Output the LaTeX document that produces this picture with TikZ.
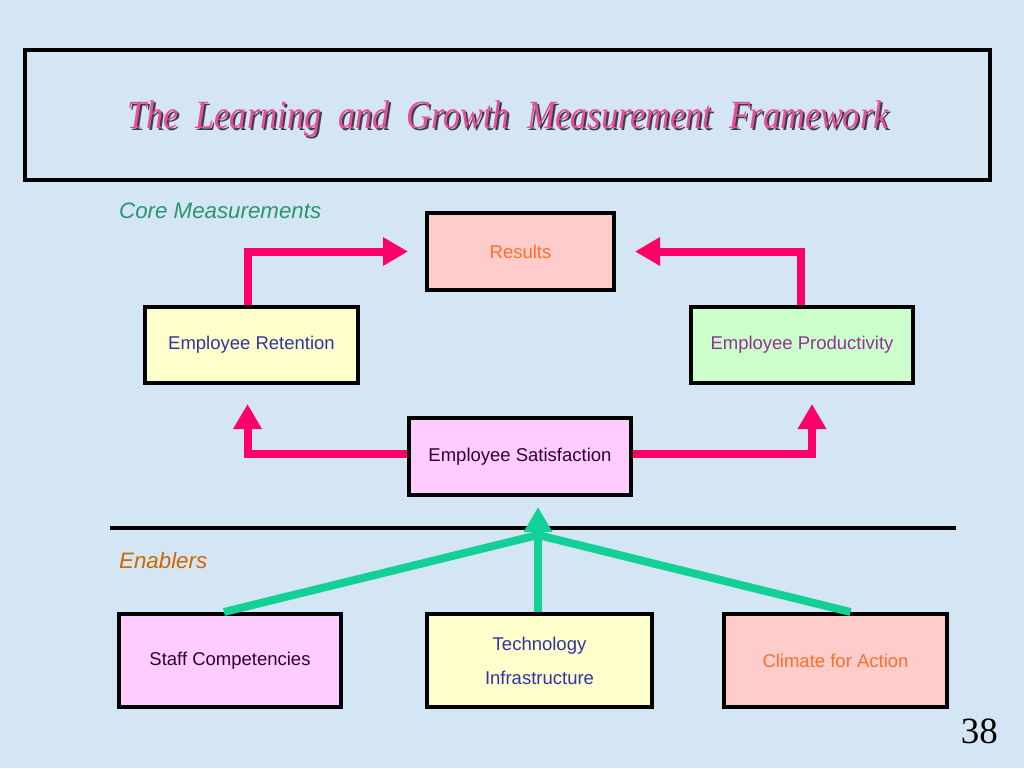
\documentclass[tikz,border=0pt]{standalone}
\usepackage{fontspec}
\setmainfont{Liberation Sans}
\newfontfamily\titlefont[FakeStretch=0.855]{Liberation Serif}
\newfontfamily\numfont{Liberation Serif}
\usetikzlibrary{arrows.meta,calc}
\definecolor{bg}{RGB}{212,230,244}
\definecolor{titlepink}{RGB}{228,78,160}
\definecolor{arrowpink}{RGB}{255,0,102}
\definecolor{arrowgreen}{RGB}{18,208,150}
\definecolor{coregreen}{RGB}{40,150,110}
\definecolor{enorange}{RGB}{204,102,0}
\definecolor{fillpink}{RGB}{255,204,204}
\definecolor{fillyellow}{RGB}{255,255,204}
\definecolor{fillgreen}{RGB}{204,255,204}
\definecolor{fillmagenta}{RGB}{255,204,255}
\definecolor{txtorange}{RGB}{255,110,40}
\definecolor{txtblue}{RGB}{50,50,170}
\definecolor{txtpurple}{RGB}{150,50,150}
\definecolor{txtdark}{RGB}{50,0,50}
\tikzset{
  box/.style={draw=black,line width=4pt,inner sep=0pt,align=center,font=\fontsize{18.5}{34}\selectfont},
  pinkarrow/.style={draw=arrowpink,line width=8pt,-{Triangle[length=25pt,width=27pt]}},
  greenline/.style={draw=arrowgreen,line width=8pt},
  greenarrow/.style={greenline,-{Triangle[length=25pt,width=27pt]}},
}
\begin{document}
\begin{tikzpicture}[x=1pt,y=-1pt]
\fill[bg] (0,0) rectangle (1024,768);
\useasboundingbox (0,0) rectangle (1024,768);
% title
\node[draw=black,line width=4pt,minimum width=965pt,minimum height=130pt,inner sep=0pt] (titlebox) at (507.5,115) {};
\node[text=black!75,font=\titlefont\itshape\fontsize{40}{48}\selectfont] (titleshadow) at (510,121) {The\ \ Learning\ \ and\ \ Growth\ \ Measurement\ \ Framework};
\node[text=titlepink,font=\titlefont\itshape\fontsize{40}{48}\selectfont] (title) at (508,119) {The\ \ Learning\ \ and\ \ Growth\ \ Measurement\ \ Framework};
% labels
\node[anchor=west,text=coregreen,font=\itshape\fontsize{22.3}{26}\selectfont,inner sep=0pt] (core) at (119,211) {Core Measurements};
\node[anchor=west,text=enorange,font=\itshape\fontsize{22.3}{26}\selectfont,inner sep=0pt] (enablers) at (119,561) {Enablers};
% boxes
\node[box,fill=fillpink,text=txtorange,minimum width=187pt,minimum height=77pt] (results) at (520.5,251.5) {Results};
\node[box,fill=fillyellow,text=txtblue,minimum width=213pt,minimum height=76pt] (retention) at (251.5,345) {Employee Retention};
\node[box,fill=fillgreen,text=txtpurple,minimum width=222pt,minimum height=76pt] (productivity) at (802,345) {Employee Productivity};
\node[box,fill=fillmagenta,text=txtdark,minimum width=222pt,minimum height=77pt] (satisfaction) at (520,456.5) {Employee Satisfaction};
\node[box,fill=fillmagenta,text=txtdark,minimum width=222pt,minimum height=93pt] (staff) at (230,660.5) {Staff Competencies};
\node[box,fill=fillyellow,text=txtblue,minimum width=225pt,minimum height=93pt] (tech) at (539.5,660.5) {Technology\\Infrastructure};
\node[box,fill=fillpink,text=txtorange,minimum width=223pt,minimum height=93pt] (climate) at (835.5,660.5) {Climate for Action};
% separator
\coordinate (sepL) at (110,528);
\coordinate (sepR) at (956,528);
\draw[line width=4pt] (sepL) -- (sepR);
% page number
\node[anchor=base east,font=\numfont\fontsize{37}{40}\selectfont,inner sep=0pt] (pagenum) at (998,743) {38};
% pink arrows
\draw[pinkarrow,shorten >=17pt] ([xshift=-4pt]retention.north) |- (results.west);
\draw[pinkarrow,shorten >=19pt] ([xshift=-1pt]productivity.north) |- (results.east);
\draw[pinkarrow,shorten >=19pt] ([yshift=3pt]satisfaction.west) -| ([xshift=-4pt]retention.south);
\draw[pinkarrow,shorten >=19pt] ([yshift=3pt]satisfaction.east) -| ([xshift=10pt]productivity.south);
% green arrows
\coordinate (junction) at (538,535);
\draw[greenline] ([xshift=-6pt]staff.north) -- (junction);
\draw[greenline] ([xshift=15pt]climate.north) -- (junction);
\draw[greenarrow,shorten >=10pt] ([xshift=-1.5pt]tech.north) -- ([xshift=-1.5pt]tech.north |- satisfaction.south);
\end{tikzpicture}
\end{document}
